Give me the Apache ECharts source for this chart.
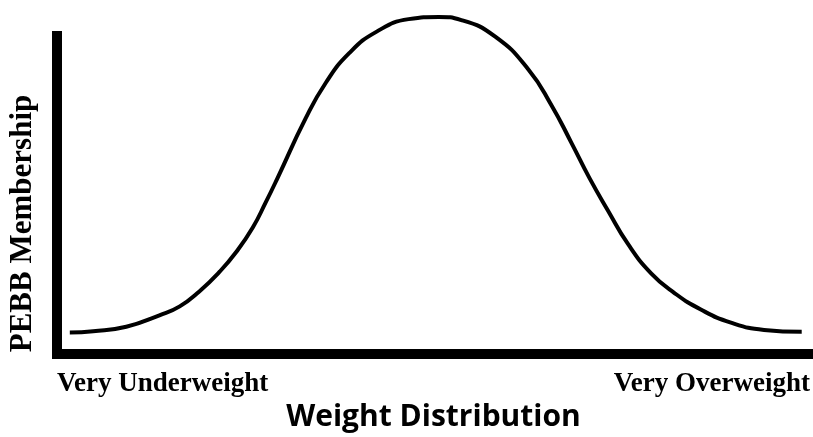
<!DOCTYPE html>
<html>
<head>
<meta charset="utf-8">
<script src="https://cdn.jsdelivr.net/npm/echarts@6/dist/echarts.min.js"></script>
<style>
html,body{margin:0;padding:0;background:#fff;}
#chart{width:813px;height:437px;}
</style>
</head>
<body>
<div id="chart"></div>
<script>
// Tick labels on the x axis (at its min and max)
var xTickLabels = ['Very Underweight', 'Very Overweight'];
var xAxisTitle = 'Weight Distribution';
var yAxisTitle = 'PEBB Membership';

// Curve: x position (0–100 scale), membership (0–100 scale, peak slightly above axis top)
var curveX = [1.7, 4.8, 9.2, 13.6, 16.3, 18.9, 21.6, 23.8, 26.0, 27.7, 29.3, 33.0, 35.7, 38.8, 42.4, 46.7, 50.7,
              53.7, 58.2, 62.6, 65.7, 68.3, 70.7, 73.2, 75.8, 78.9, 82.0, 85.5, 89.5, 93.9, 98.9];
var curveY = [6.8, 7.2, 8.6, 12.2, 15.0, 19.7, 25.9, 32.1, 39.8, 47.6, 55.4, 74.0, 85.3, 94.6, 101.3, 105.3, 106.0,
              105.0, 99.8, 89.5, 78.1, 66.5, 55.4, 45.0, 34.7, 25.4, 19.2, 14.0, 9.9, 7.6, 7.0];

var data = curveX.map(function (x, i) { return [x, curveY[i]]; });

var chart = echarts.init(document.getElementById('chart'), null, {renderer: 'canvas'});
chart.setOption({
  animation: false,
  backgroundColor: '#ffffff',
  grid: {left: 57, right: 0, top: 36, bottom: 78.5, containLabel: false},
  xAxis: {
    type: 'value', min: 0, max: 100, interval: 100,
    axisLine: {show: true, onZero: false, lineStyle: {color: '#000', width: 10, cap: 'square'}},
    axisTick: {show: false},
    splitLine: {show: false},
    axisLabel: {
      show: true, showMinLabel: true, showMaxLabel: true,
      alignMinLabel: 'left', alignMaxLabel: 'right',
      margin: 16,
      color: '#000',
      fontFamily: 'Liberation Serif', fontWeight: 'bold', fontSize: 27,
      formatter: function (v) { return v === 0 ? xTickLabels[0] : xTickLabels[1]; }
    },
    name: xAxisTitle,
    nameLocation: 'middle',
    nameGap: 47,
    nameTextStyle: {color: '#000', fontFamily: 'Open Sans', fontWeight: 'bold', fontSize: 30}
  },
  yAxis: {
    type: 'value', min: 0, max: 100,
    axisLine: {show: true, lineStyle: {color: '#000', width: 10, cap: 'square'}},
    axisTick: {show: false},
    splitLine: {show: false},
    axisLabel: {show: false}
  },
  graphic: [{
    type: 'text',
    x: 23, y: 223.5,
    rotation: Math.PI / 2,
    style: {
      text: yAxisTitle,
      fill: '#000',
      font: 'bold 31px "Liberation Serif"',
      textAlign: 'center',
      textVerticalAlign: 'middle'
    }
  }],
  series: [{
    type: 'line',
    data: data,
    smooth: 0.5,
    showSymbol: false,
    clip: false,
    lineStyle: {color: '#000', width: 4}
  }]
});
</script>
</body>
</html>
